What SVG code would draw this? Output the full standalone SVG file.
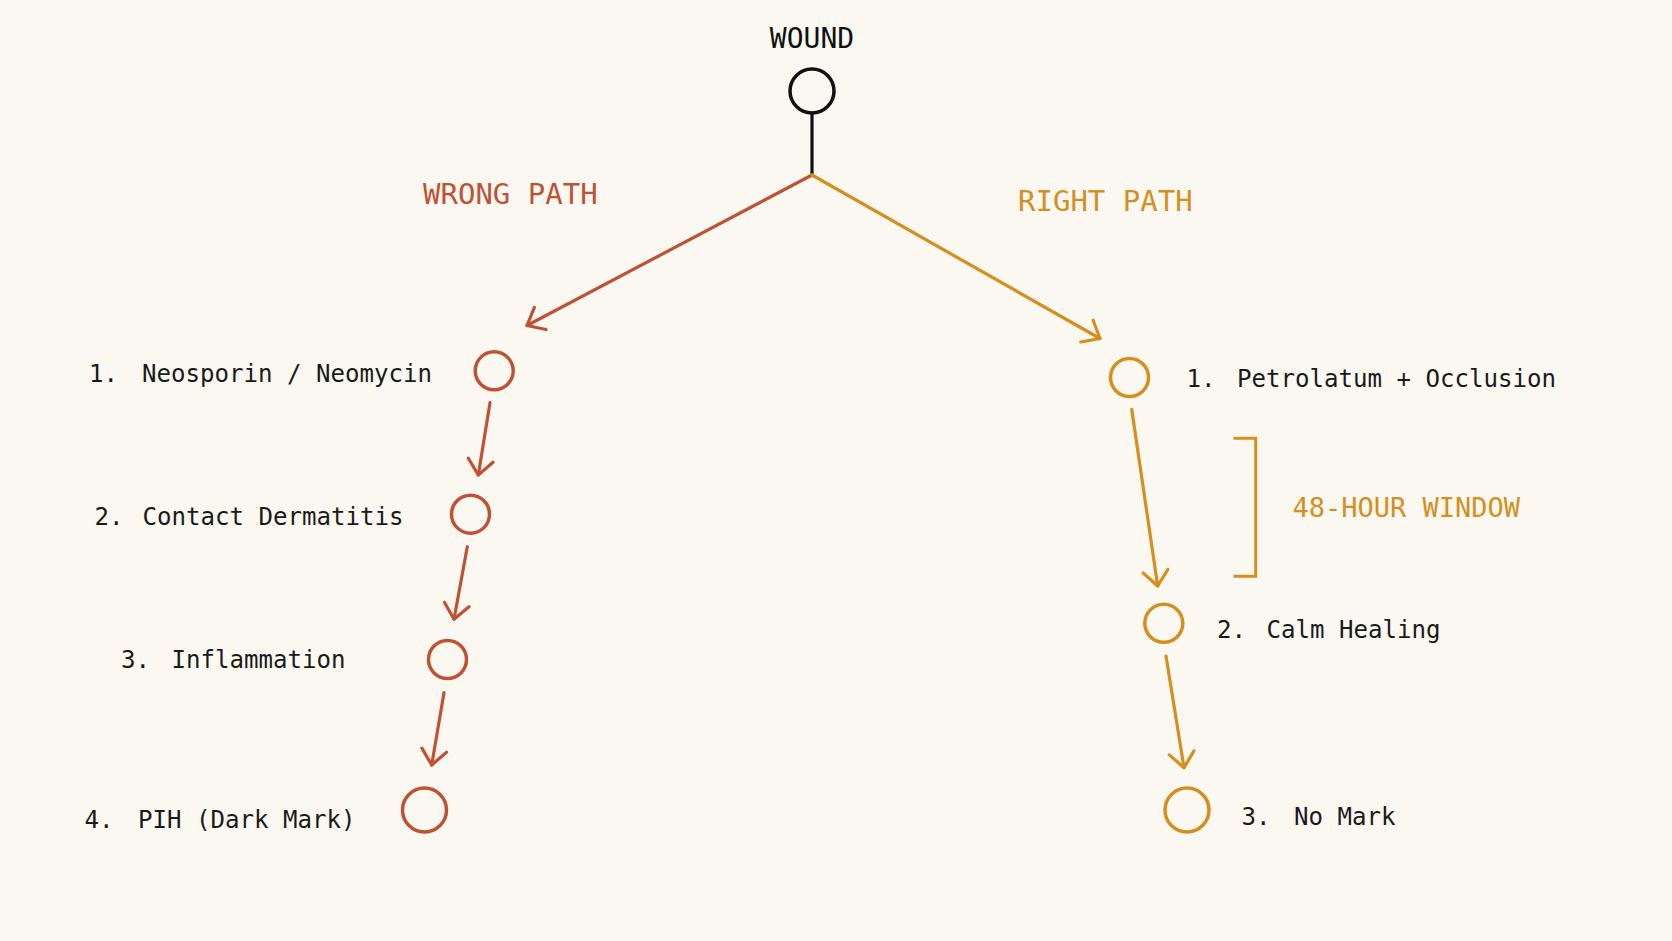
<svg xmlns="http://www.w3.org/2000/svg" width="1672" height="941" viewBox="0 0 1672 941">
<style>
.bg{fill:#FBF8F1}
.lbl{font-family:"DejaVu Sans Mono","Liberation Mono",monospace;font-size:24.1px;fill:#1a1a1a}
.head{font-family:"DejaVu Sans Mono","Liberation Mono",monospace;font-size:29px}
.red{stroke:#BF5235}
.amb{stroke:#D48F1E}
.tred{fill:#BF5235}
.tamb{fill:#D48F1E}
.node{fill:none;stroke-width:3.5}
.edge{fill:none;stroke-width:3.2;stroke-linecap:round}
</style>
<defs>
<marker id="ahR" markerUnits="userSpaceOnUse" markerWidth="40" markerHeight="40" viewBox="-20 -20 40 40" refX="0" refY="0" orient="auto">
<path d="M -15 -12.5 L 0 0 L -15 12.5" fill="none" stroke="#BF5235" stroke-width="3.2" stroke-linecap="round" stroke-linejoin="round"/>
</marker>
<marker id="ahA" markerUnits="userSpaceOnUse" markerWidth="40" markerHeight="40" viewBox="-20 -20 40 40" refX="0" refY="0" orient="auto">
<path d="M -15 -12.5 L 0 0 L -15 12.5" fill="none" stroke="#D48F1E" stroke-width="3.2" stroke-linecap="round" stroke-linejoin="round"/>
</marker>
</defs>
<rect class="bg" x="0" y="0" width="1672" height="941"/>

<g id="connectors">
<line class="edge" x1="812" y1="113" x2="812" y2="175" stroke="#111"/>
<line class="edge red" x1="812" y1="175" x2="527" y2="325.5" marker-end="url(#ahR)"/>
<line class="edge amb" x1="812" y1="175" x2="1100" y2="338.5" marker-end="url(#ahA)"/>
<line class="edge red" x1="490" y1="402.7" x2="478.3" y2="475" marker-end="url(#ahR)"/>
<line class="edge red" x1="467.3" y1="546.7" x2="454" y2="619.3" marker-end="url(#ahR)"/>
<line class="edge red" x1="444" y1="692.7" x2="431.7" y2="765" marker-end="url(#ahR)"/>
<line class="edge amb" x1="1131.7" y1="409.3" x2="1157.7" y2="586" marker-end="url(#ahA)"/>
<line class="edge amb" x1="1166" y1="656" x2="1184" y2="767.7" marker-end="url(#ahA)"/>
</g>

<g id="wound">
<text x="812" y="48" text-anchor="middle" font-family="DejaVu Sans Mono, Liberation Mono, monospace" font-size="28" fill="#111">WOUND</text>
<circle class="node" cx="812" cy="91" r="22" stroke="#111"/>
</g>

<g id="wrong-path-label">
<text class="head tred" x="423" y="204">WRONG PATH</text>
</g>
<g id="right-path-label">
<text class="head tamb" x="1018" y="211">RIGHT PATH</text>
</g>

<g id="wrong-1">
<circle class="node red" cx="494.2" cy="370.8" r="19"/>
<text class="lbl" x="89" y="381.7">1.</text>
<text class="lbl" x="142" y="381.7">Neosporin / Neomycin</text>
</g>
<g id="wrong-2">
<circle class="node red" cx="470.5" cy="514.2" r="19"/>
<text class="lbl" x="94.5" y="525">2.</text>
<text class="lbl" x="142.5" y="525">Contact Dermatitis</text>
</g>
<g id="wrong-3">
<circle class="node red" cx="447.5" cy="659.5" r="19"/>
<text class="lbl" x="121" y="668.3">3.</text>
<text class="lbl" x="171.5" y="668.3">Inflammation</text>
</g>
<g id="wrong-4">
<circle class="node red" cx="424.5" cy="810" r="22"/>
<text class="lbl" x="84.5" y="828.3">4.</text>
<text class="lbl" x="138" y="828.3">PIH (Dark Mark)</text>
</g>

<g id="right-1">
<circle class="node amb" cx="1129.5" cy="377.5" r="19"/>
<text class="lbl" x="1186.5" y="387">1.</text>
<text class="lbl" x="1237" y="387">Petrolatum + Occlusion</text>
</g>
<g id="window">
<path d="M 1233.5 438.3 H 1255.7 V 576.3 H 1233.5" fill="none" stroke="#D48F1E" stroke-width="3"/>
<text x="1292.5" y="517.3" font-family="DejaVu Sans Mono, Liberation Mono, monospace" font-size="27" fill="#D48F1E">48-HOUR WINDOW</text>
</g>
<g id="right-2">
<circle class="node amb" cx="1163.8" cy="623.3" r="19"/>
<text class="lbl" x="1217" y="638.3">2.</text>
<text class="lbl" x="1266.5" y="638.3">Calm Healing</text>
</g>
<g id="right-3">
<circle class="node amb" cx="1187" cy="810" r="22"/>
<text class="lbl" x="1241.5" y="825">3.</text>
<text class="lbl" x="1294" y="825">No Mark</text>
</g>
</svg>
